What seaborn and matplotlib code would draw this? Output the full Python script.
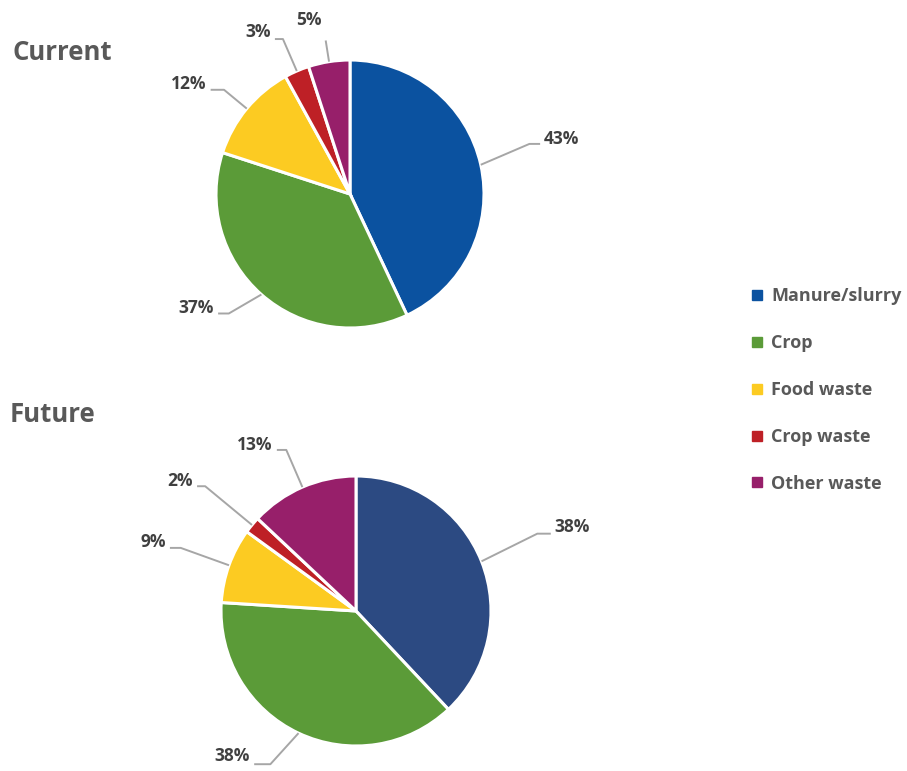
import matplotlib
matplotlib.use("Agg")
import matplotlib.pyplot as plt
from matplotlib.lines import Line2D
import numpy as np
import seaborn as sns

# Feedstock categories and their shares (%)
sources = ["Manure/slurry", "Crop", "Food waste", "Crop waste", "Other waste"]
current_share = [43, 37, 12, 3, 5]
future_share = [38, 38, 9, 2, 13]
panel_titles = ["Current", "Future"]

current_colors = ["#0B52A0", "#5B9B38", "#FCCB22", "#BE2026", "#971F6A"]
future_colors = ["#2C4A82", "#5B9B38", "#FCCB22", "#BE2026", "#971F6A"]

sns.set_theme(style="white")
plt.rcParams["font.family"] = ["Open Sans", "DejaVu Sans"]

W, H = 907, 771
fig = plt.figure(figsize=(W / 100, H / 100), dpi=100)

LABEL_COLOR = "#404040"
TITLE_COLOR = "#595959"
LEADER_COLOR = "#A6A6A6"


def pie_axes(cx, cy, r, L=2.0):
    """Axes whose data unit equals the pie radius, centred on (cx, cy) px."""
    rect = [(cx - L * r) / W, 1 - (cy + L * r) / H, 2 * L * r / W, 2 * L * r / H]
    ax = fig.add_axes(rect)
    ax.set_facecolor("none")
    return ax, L


def draw_pie(ax, L, shares, colors, layout):
    wedges, _ = ax.pie(shares, colors=colors, startangle=90, counterclock=False,
                       radius=1.0,
                       wedgeprops=dict(edgecolor="white", linewidth=2.2))
    for w, share, (r_e, turn, tail, dy) in zip(wedges, shares, layout):
        mid = np.deg2rad((w.theta1 + w.theta2) / 2)
        c, s = np.cos(mid), np.sin(mid)
        ce, se = np.cos(mid + np.deg2rad(turn)), np.sin(mid + np.deg2rad(turn))
        side = 1 if c >= 0 else -1
        p0 = (c * 1.0, s * 1.0)
        p1 = (ce * r_e, se * r_e)
        p2 = (p1[0] + side * tail, p1[1])
        ax.plot([p0[0], p1[0], p2[0]], [p0[1], p1[1], p2[1]],
                color=LEADER_COLOR, lw=1.4, solid_capstyle="butt", clip_on=False)
        ax.text(p2[0] + side * 0.03, p2[1] + dy, f"{share}%",
                ha="left" if side > 0 else "right", va="center",
                fontsize=12.5, fontweight="bold", color=LABEL_COLOR)
    ax.set_xlim(-L, L)
    ax.set_ylim(-L, L)
    ax.set_aspect("auto")
    ax.axis("off")


# leader layout per slice: (elbow radius, elbow turn in deg, horizontal tail, text y shift)
current_layout = [(1.39, 3.0, 0.08, 0.04), (1.27, -4.0, 0.08, 0.04),
                  (1.22, 0.0, 0.1, 0.04), (1.26, 0.0, 0.06, 0.05),
                  (1.16, 0.0, 0.0, 0.15)]
future_layout = [(1.46, 1.5, 0.1, 0.05), (1.30, -4.0, 0.12, 0.06),
                 (1.38, 0.0, 0.08, 0.04), (1.45, 0.0, 0.06, 0.04),
                 (1.30, 0.0, 0.07, 0.04)]

ax1, L1 = pie_axes(350, 194, 134)
draw_pie(ax1, L1, current_share, current_colors, current_layout)

ax2, L2 = pie_axes(356, 611, 135)
draw_pie(ax2, L2, future_share, future_colors, future_layout)

fig.text(12 / W, 1 - 52 / H, panel_titles[0], fontsize=18.5, fontweight="bold",
         color=TITLE_COLOR, ha="left", va="center")
fig.text(10 / W, 1 - 415 / H, panel_titles[1], fontsize=18.5, fontweight="bold",
         color=TITLE_COLOR, ha="left", va="center")

handles = [Line2D([], [], marker="s", linestyle="none", markersize=6.5,
                  markerfacecolor=col, markeredgecolor=col)
           for col in current_colors]
leg = fig.legend(handles, sources, loc="upper left",
                 bbox_to_anchor=(743 / W, 1 - 280 / H), frameon=False,
                 labelspacing=1.6, handlelength=0.7, handletextpad=0.45,
                 borderaxespad=0, prop=dict(size=13, weight="bold"))
for t in leg.get_texts():
    t.set_color(TITLE_COLOR)

fig.savefig("out.png", dpi=100, facecolor="white")
